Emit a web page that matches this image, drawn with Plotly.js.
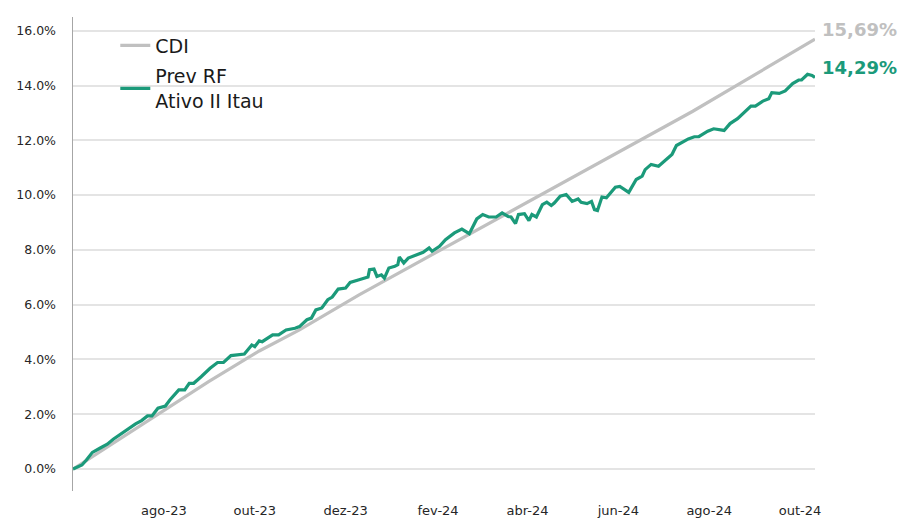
<!DOCTYPE html>
<html>
<head>
<meta charset="utf-8">
<script src="https://cdn.plot.ly/plotly-3.0.1.min.js"></script>
<style>html,body{margin:0;padding:0;background:#fff;}#chart{width:902px;height:520px;}</style>
</head>
<body>
<div id="chart"></div>
<script>
// CDI cumulative return (%)
const cdiDates = ['2023-06-01','2023-07-31','2023-08-31','2023-10-04','2023-10-31','2023-12-10','2024-02-02','2024-04-22','2024-05-19','2024-06-07','2024-07-21','2024-09-03','2024-09-18','2024-10-11'];
const cdiValues = [0.00,2.12,3.19,4.31,5.08,6.36,7.97,10.38,11.17,11.74,13.06,14.47,14.95,15.69];

// Prev RF Ativo II Itau cumulative return (%)
const fundDates = ['2023-06-01','2023-06-07','2023-06-10','2023-06-14','2023-06-19','2023-06-24','2023-06-28','2023-07-02','2023-07-07','2023-07-13','2023-07-17','2023-07-21','2023-07-24','2023-07-28','2023-08-02','2023-08-05','2023-08-11','2023-08-15','2023-08-18','2023-08-21','2023-08-26','2023-09-01','2023-09-06','2023-09-10','2023-09-15','2023-09-19','2023-09-24','2023-09-29','2023-10-01','2023-10-04','2023-10-06','2023-10-13','2023-10-17','2023-10-22','2023-10-28','2023-10-31','2023-11-05','2023-11-08','2023-11-11','2023-11-15','2023-11-19','2023-11-22','2023-11-26','2023-12-01','2023-12-04','2023-12-10','2023-12-16','2023-12-17','2023-12-20','2023-12-22','2023-12-25','2023-12-27','2023-12-30','2024-01-03','2024-01-05','2024-01-06','2024-01-09','2024-01-12','2024-01-16','2024-01-22','2024-01-26','2024-01-28','2024-02-02','2024-02-06','2024-02-12','2024-02-17','2024-02-22','2024-02-27','2024-03-02','2024-03-06','2024-03-11','2024-03-15','2024-03-19','2024-03-21','2024-03-24','2024-03-26','2024-03-30','2024-04-02','2024-04-04','2024-04-07','2024-04-11','2024-04-14','2024-04-17','2024-04-19','2024-04-23','2024-04-27','2024-05-01','2024-05-05','2024-05-07','2024-05-11','2024-05-14','2024-05-16','2024-05-18','2024-05-21','2024-05-24','2024-05-28','2024-05-30','2024-06-02','2024-06-08','2024-06-13','2024-06-17','2024-06-19','2024-06-23','2024-06-28','2024-07-02','2024-07-07','2024-07-10','2024-07-18','2024-07-22','2024-07-25','2024-07-31','2024-08-04','2024-08-11','2024-08-15','2024-08-20','2024-08-24','2024-08-29','2024-09-01','2024-09-06','2024-09-10','2024-09-12','2024-09-17','2024-09-21','2024-09-26','2024-09-30','2024-10-02','2024-10-06','2024-10-09','2024-10-11'];
const fundValues = [0.00,0.15,0.33,0.61,0.76,0.91,1.09,1.24,1.45,1.65,1.77,1.94,1.94,2.22,2.30,2.52,2.89,2.89,3.13,3.13,3.37,3.68,3.89,3.89,4.14,4.17,4.20,4.53,4.47,4.68,4.65,4.90,4.90,5.08,5.14,5.20,5.45,5.51,5.81,5.88,6.18,6.28,6.57,6.61,6.81,6.91,7.01,7.28,7.30,7.03,7.09,6.97,7.34,7.40,7.46,7.74,7.52,7.70,7.79,7.91,8.07,7.95,8.13,8.37,8.62,8.76,8.59,9.13,9.29,9.20,9.20,9.35,9.22,9.20,8.96,9.29,9.32,9.07,9.29,9.20,9.65,9.74,9.62,9.71,9.96,10.02,9.77,9.86,9.74,9.69,9.77,9.47,9.44,9.93,9.90,10.14,10.29,10.32,10.10,10.57,10.69,10.93,11.12,11.05,11.24,11.48,11.81,12.05,12.13,12.13,12.33,12.42,12.36,12.61,12.79,13.01,13.25,13.25,13.43,13.52,13.74,13.71,13.80,14.07,14.20,14.20,14.41,14.37,14.29];

const tickDates = ['2023-08-01','2023-10-01','2023-12-01','2024-02-01','2024-04-01','2024-06-01','2024-08-01','2024-10-01'];
const tickLabels = ['ago-23','out-23','dez-23','fev-24','abr-24','jun-24','ago-24','out-24'];
const yTicks = [0,2,4,6,8,10,12,14,16];
const yTickLabels = ['0.0%','2.0%','4.0%','6.0%','8.0%','10.0%','12.0%','14.0%','16.0%'];

const seriesNames = ['CDI','Prev RF<br>Ativo II Itau'];
const colGray = '#c0c0c0';
const colTeal = '#1b9a7a';

const fmt = v => v.toFixed(2).replace('.', ',') + '%';

const traces = [
  {x: cdiDates, y: cdiValues, type:'scatter', mode:'lines', name: seriesNames[0],
   line:{color:colGray, width:3.2}, legendgroup:'a'},
  {x: fundDates, y: fundValues, type:'scatter', mode:'lines', name: seriesNames[1],
   line:{color:colTeal, width:3.2}, legendgroup:'b'}
];

const layout = {
  width:902, height:520,
  margin:{l:73, r:87, t:17, b:29, pad:0},
  paper_bgcolor:'#ffffff', plot_bgcolor:'#ffffff',
  showlegend:true,
  legend:{x:0.057, y:0.98, xanchor:'left', yanchor:'top', bgcolor:'rgba(0,0,0,0)',
    font:{family:'DejaVu Sans, sans-serif', size:19, color:'#1a1a1a'}, tracegroupgap:3, traceorder:'grouped'},
  xaxis:{type:'date', range:['2023-06-01','2024-10-11'], tickvals:tickDates, ticktext:tickLabels,
    showgrid:false, zeroline:false, showline:false, ticks:'outside', ticklen:7, tickcolor:'rgba(0,0,0,0)',
    tickfont:{family:'DejaVu Sans, sans-serif', size:13, color:'#262626'}, fixedrange:true},
  yaxis:{range:[-0.8,16.5], tickvals:yTicks, ticktext:yTickLabels,
    showgrid:true, gridcolor:'#e4e4e4', gridwidth:2, zeroline:false,
    showline:true, linecolor:'#a6a6a6', linewidth:1.5,
    ticks:'outside', ticklen:13, tickcolor:'rgba(0,0,0,0)',
    tickfont:{family:'DejaVu Sans, sans-serif', size:12.5, color:'#262626'}, fixedrange:true},
  annotations:[
    {x: cdiDates[cdiDates.length-1], y: cdiValues[cdiValues.length-1], xref:'x', yref:'y',
     text: fmt(cdiValues[cdiValues.length-1]), showarrow:false, xanchor:'left', yanchor:'middle',
     xshift:5, yshift:10, font:{family:'DejaVu Sans, sans-serif', size:18, color:colGray, weight:'bold'}},
    {x: fundDates[fundDates.length-1], y: fundValues[fundValues.length-1], xref:'x', yref:'y',
     text: fmt(fundValues[fundValues.length-1]), showarrow:false, xanchor:'left', yanchor:'middle',
     xshift:5, yshift:10, font:{family:'DejaVu Sans, sans-serif', size:18, color:colTeal, weight:'bold'}}
  ]
};

Plotly.newPlot('chart', traces, layout, {displayModeBar:false, staticPlot:true});
</script>
</body>
</html>
